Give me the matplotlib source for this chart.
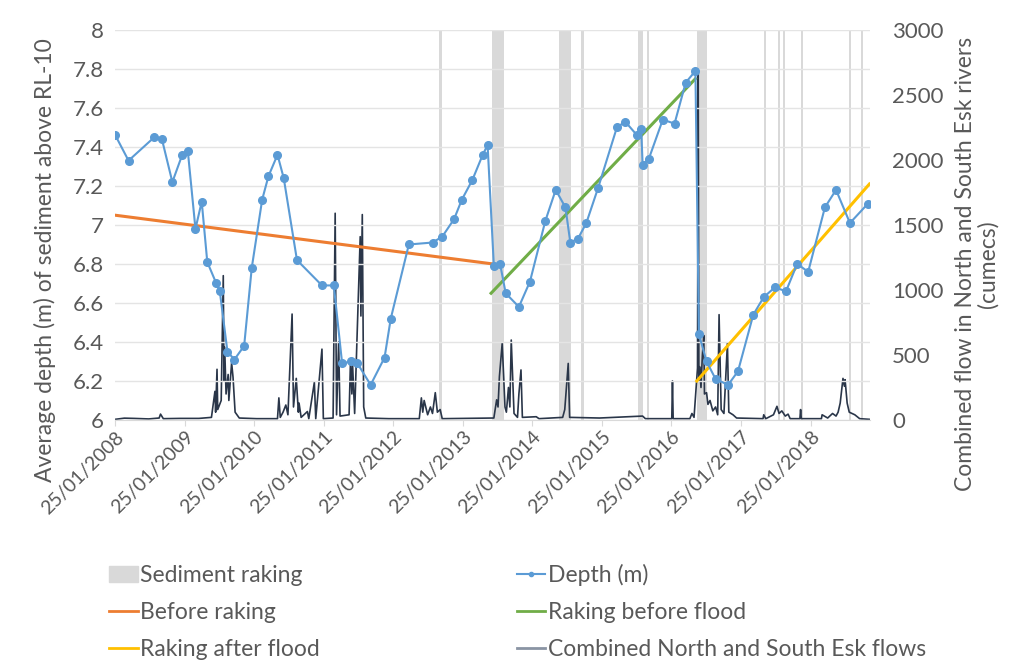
import matplotlib
matplotlib.use("Agg")
import matplotlib.pyplot as plt
import matplotlib.dates as mdates
from matplotlib.patches import Patch
from matplotlib.lines import Line2D
from matplotlib.ticker import FuncFormatter
from datetime import datetime

plt.rcParams['font.family'] = ['Lato', 'DejaVu Sans']

# depth survey points (decimal year, depth m)
depth_year = [2008.07, 2008.26, 2008.63, 2008.74, 2008.89, 2009.03, 2009.11, 2009.22,
              2009.31, 2009.39, 2009.52, 2009.57, 2009.68, 2009.78, 2009.92, 2010.03,
              2010.18, 2010.27, 2010.40, 2010.49, 2010.68, 2011.04, 2011.21, 2011.33,
              2011.46, 2011.55, 2011.74, 2011.94, 2012.03, 2012.29, 2012.63, 2012.77,
              2012.94, 2013.05, 2013.20, 2013.35, 2013.42, 2013.51, 2013.60, 2013.68,
              2013.87, 2014.03, 2014.25, 2014.40, 2014.54, 2014.61, 2014.72, 2014.84,
              2015.01, 2015.28, 2015.40, 2015.57, 2015.63, 2015.65, 2015.74, 2015.94,
              2016.11, 2016.27, 2016.41, 2016.46, 2016.57, 2016.70, 2016.88, 2017.02,
              2017.24, 2017.39, 2017.55, 2017.71, 2017.87, 2018.03, 2018.27, 2018.43,
              2018.63, 2018.89]
depth_m = [7.46, 7.33, 7.45, 7.44, 7.22, 7.36, 7.38, 6.98,
           7.12, 6.81, 6.70, 6.66, 6.35, 6.31, 6.38, 6.78,
           7.13, 7.25, 7.36, 7.24, 6.82, 6.69, 6.69, 6.29,
           6.30, 6.29, 6.18, 6.32, 6.52, 6.90, 6.91, 6.94,
           7.03, 7.13, 7.23, 7.36, 7.41, 6.79, 6.80, 6.65,
           6.58, 6.71, 7.02, 7.18, 7.09, 6.91, 6.93, 7.01,
           7.19, 7.50, 7.53, 7.46, 7.49, 7.31, 7.34, 7.54,
           7.52, 7.73, 7.79, 6.44, 6.30, 6.21, 6.18, 6.25,
           6.54, 6.63, 6.68, 6.66, 6.80, 6.76, 7.09, 7.18,
           7.01, 7.11]

# trend line end points
before_year = [2008.07, 2013.50]
before_m = [7.05, 6.80]
rake_pre_year = [2013.47, 2016.41]
rake_pre_m = [6.65, 7.75]
rake_post_year = [2016.43, 2018.91]
rake_post_m = [6.20, 7.21]

# sediment raking periods
rake_start = [2012.73, 2013.49, 2014.45, 2014.77, 2015.58, 2015.71, 2016.43,
              2017.39, 2017.60, 2017.66, 2017.92, 2018.61, 2018.79]
rake_end = [2012.76, 2013.65, 2014.62, 2014.80, 2015.66, 2015.74, 2016.58,
            2017.42, 2017.63, 2017.69, 2017.95, 2018.64, 2018.82]

# combined river flow (decimal year, cumecs)
flow_year = [2008.07, 2008.20, 2008.34, 2008.55, 2008.70, 2008.72, 2008.76, 2009.00,
             2009.27, 2009.45, 2009.47, 2009.50, 2009.51, 2009.53, 2009.54, 2009.59,
             2009.62, 2009.63, 2009.64, 2009.66, 2009.69, 2009.70, 2009.74, 2009.76,
             2009.79, 2009.85, 2010.10, 2010.40, 2010.42, 2010.44, 2010.48, 2010.52,
             2010.55, 2010.61, 2010.63, 2010.67, 2010.70, 2010.71, 2010.74, 2010.83,
             2010.85, 2010.93, 2010.95, 2011.04, 2011.06, 2011.20, 2011.23, 2011.25,
             2011.28, 2011.30, 2011.43, 2011.45, 2011.47, 2011.48, 2011.51, 2011.59,
             2011.60, 2011.62, 2011.64, 2011.67, 2012.00, 2012.44, 2012.47, 2012.49,
             2012.51, 2012.56, 2012.60, 2012.63, 2012.67, 2012.70, 2012.74, 2012.77,
             2013.10, 2013.51, 2013.55, 2013.57, 2013.59, 2013.63, 2013.67, 2013.69,
             2013.72, 2013.74, 2013.76, 2013.80, 2013.85, 2013.87, 2013.90, 2013.92,
             2014.12, 2014.16, 2014.50, 2014.53, 2014.58, 2014.60, 2015.03, 2015.65,
             2015.69, 2016.07, 2016.08, 2016.09, 2016.33, 2016.36, 2016.39, 2016.44,
             2016.45, 2016.46, 2016.47, 2016.49, 2016.51, 2016.53, 2016.54, 2016.57,
             2016.59, 2016.62, 2016.66, 2016.70, 2016.73, 2016.75, 2016.78, 2016.82,
             2016.87, 2016.89, 2016.95, 2017.00, 2017.38, 2017.39, 2017.42, 2017.53,
             2017.58, 2017.61, 2017.65, 2017.70, 2017.74, 2017.77, 2017.91, 2017.92,
             2017.93, 2018.22, 2018.23, 2018.31, 2018.38, 2018.43, 2018.46, 2018.49,
             2018.53, 2018.55, 2018.56, 2018.59, 2018.62, 2018.70, 2018.77, 2018.91]
flow_cumecs = [5, 14, 12, 8, 15, 45, 10, 12,
               12, 20, 100, 220, 60, 390, 80, 150,
               1110, 300, 560, 200, 350, 150, 440, 330,
               60, 15, 10, 10, 170, 20, 60, 115,
               40, 815, 100, 320, 60, 130, 20, 65,
               10, 290, 10, 545, 10, 15, 1590, 40,
               600, 30, 40, 450, 200, 430, 50, 1410,
               800, 1580, 100, 15, 10, 10, 170, 60,
               150, 40, 100, 50, 210, 60, 80, 10,
               12, 15, 155, 100, 335, 590, 100, 60,
               250, 100, 615, 50, 20, 200, 385, 20,
               25, 10, 20, 80, 435, 20, 15, 30,
               10, 10, 300, 10, 10, 50, 20, 400,
               2690, 300, 410, 250, 500, 650, 200, 210,
               120, 150, 70, 100, 40, 810, 80, 50,
               590, 60, 40, 15, 10, 40, 10, 40,
               105, 50, 70, 30, 45, 10, 10, 80,
               10, 10, 40, 15, 50, 30, 60, 130,
               320, 260, 310, 130, 60, 40, 10, 5]

year_ticks = list(range(2008, 2019))


def to_num(y):
    yr = int(y)
    return mdates.date2num(datetime(yr, 1, 1)) + (y - yr) * 365.25


grey = '#595959'
fig = plt.figure(figsize=(10.09, 6.62), dpi=100)
ax1 = fig.add_axes([0.114, 0.3656, 0.748, 0.5891])
ax2 = ax1.twinx()
ax1.set_zorder(ax2.get_zorder() + 1)
ax1.patch.set_visible(False)

for s, e in zip(rake_start, rake_end):
    ax2.axvspan(to_num(s), to_num(e), color='#d9d9d9', lw=0, zorder=0)
ax2.plot([to_num(v) for v in flow_year], flow_cumecs, color='#2a3649', lw=1.2, zorder=2)

ax1.plot([to_num(v) for v in before_year], before_m, color='#ed7d31', lw=2.2)
ax1.plot([to_num(v) for v in rake_pre_year], rake_pre_m, color='#70ad47', lw=2.2)
ax1.plot([to_num(v) for v in rake_post_year], rake_post_m, color='#ffc000', lw=2.2)
ax1.plot([to_num(v) for v in depth_year], depth_m, color='#5b9bd5', lw=1.5,
         marker='o', ms=5.5)

ax1.set_ylim(6, 8)
ax1.set_yticks([6 + 0.2 * i for i in range(11)])
ax1.yaxis.set_major_formatter(FuncFormatter(lambda v, p: f'{v:g}'))
ax2.set_ylim(0, 3000)
ax2.set_yticks(range(0, 3001, 500))
ax1.set_xlim(to_num(2008.066), to_num(2018.915))
ax1.set_xticks([mdates.date2num(datetime(y, 1, 25)) for y in year_ticks])
ax1.xaxis.set_major_formatter(mdates.DateFormatter('%d/%m/%Y'))
for lab in ax1.get_xticklabels():
    lab.set_rotation(45)
    lab.set_ha('right')
    lab.set_rotation_mode('anchor')

ax1.grid(axis='y', color='#e4e4e4', lw=1)
for ax in (ax1, ax2):
    for sp in ax.spines.values():
        sp.set_visible(False)
    ax.tick_params(axis='y', length=0, labelsize=16, labelcolor=grey)
ax1.tick_params(axis='y', pad=8)
ax2.tick_params(axis='y', pad=16)
ax1.spines['bottom'].set_visible(True)
ax1.spines['bottom'].set_color('#d9d9d9')
ax1.tick_params(axis='x', length=4, color='#d9d9d9', labelsize=14, labelcolor=grey, pad=2)

ax1.set_ylabel('Average depth (m) of sediment above RL-10', fontsize=16.5, color=grey,
               va='center')
ax1.yaxis.set_label_coords(-0.093, 0.41)
ax2.set_ylabel('Combined flow in North and South Esk rivers\n(cumecs)', fontsize=16.5,
               color=grey, linespacing=1.05, va='center')
ax2.yaxis.set_label_coords(1.142, 0.40)

handles = [Patch(color='#d9d9d9'),
           Line2D([], [], color='#ed7d31', lw=2),
           Line2D([], [], color='#ffc000', lw=2),
           Line2D([], [], color='#5b9bd5', lw=1.5, marker='o', ms=3),
           Line2D([], [], color='#70ad47', lw=2),
           Line2D([], [], color='#8a94a3', lw=2)]
labels = ['Sediment raking', 'Before raking', 'Raking after flood', 'Depth (m)',
          'Raking before flood', 'Combined North and South Esk flows']
fig.legend(handles, labels, ncol=2, loc='upper left', bbox_to_anchor=(0.108, 0.148),
           frameon=False, fontsize=16.5, handlelength=1.25, handletextpad=0.1,
           columnspacing=8.6, labelspacing=0.70, labelcolor=grey,
           borderaxespad=0, borderpad=0)

fig.savefig('out.png', dpi=100)
